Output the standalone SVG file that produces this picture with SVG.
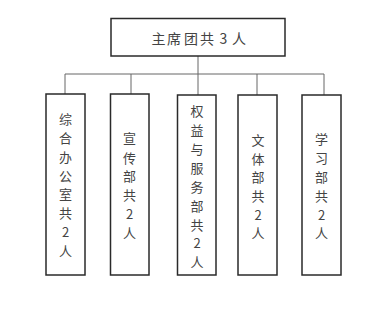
<svg xmlns="http://www.w3.org/2000/svg" width="384" height="317" viewBox="0 0 384 317">
<style>
.box{fill:#fff;stroke:#2a2a2a;stroke-width:1.5}
.ln{fill:none;stroke:#666;stroke-width:1}
.t{font-family:"Noto Sans CJK SC","Noto Sans",sans-serif;font-size:13px;fill:#444;text-anchor:middle}
.tt{font-size:14px}
</style>
<rect width="384" height="317" fill="#fff"/>
<g id="connectors">
<path class="ln" d="M198,56V74M65,74H324M65,74V94M131,74V94M198,74V95M257,74V95M324,74V95"/>
</g>
<g id="top">
<rect class="box" x="111" y="18.5" width="174" height="37.5"/>
<text class="t tt" x="158.5 174 191 207 223.5 239" y="44">主席团共3人</text>
</g>
<g id="n1">
<rect class="box" x="46" y="94" width="39" height="181"/>
<text class="t" x="65.5 65.5 65.5 65.5 65.5 65.5 65.5 65.5" y="124 143 162 180.5 199 218 237 255.5">综合办公室共2人</text>
</g>
<g id="n2">
<rect class="box" x="110.5" y="94" width="38.5" height="181"/>
<text class="t" x="129.5 129.5 129.5 129.5 129.5 129.5" y="143 162.5 181 200 219 237.5">宣传部共2人</text>
</g>
<g id="n3">
<rect class="box" x="177.5" y="95" width="38.5" height="180"/>
<text class="t" x="197 197 197 197 197 197 197 197 197" y="115.5 135 154 173 192 211 230 248 267">权益与服务部共2人</text>
</g>
<g id="n4">
<rect class="box" x="238" y="95" width="39" height="180"/>
<text class="t" x="258 258 258 258 258 258" y="145 163.5 182 201 220 238">文体部共2人</text>
</g>
<g id="n5">
<rect class="box" x="302" y="95" width="39" height="180"/>
<text class="t" x="321.5 321.5 321.5 321.5 321.5 321.5" y="143.5 163 182 201 220 238">学习部共2人</text>
</g>
</svg>
